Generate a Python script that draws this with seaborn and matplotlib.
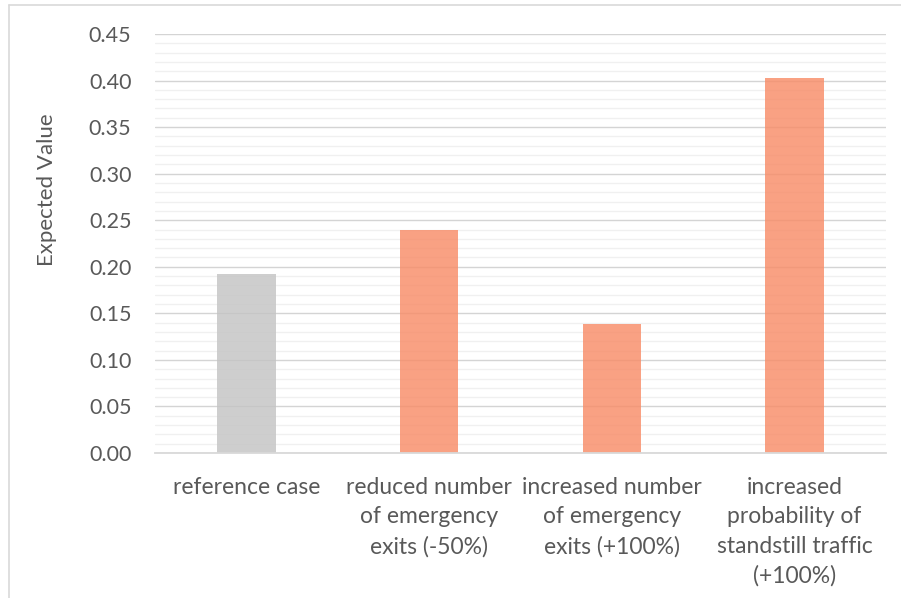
import matplotlib
matplotlib.use("Agg")
import matplotlib.pyplot as plt
from matplotlib.ticker import MultipleLocator
from matplotlib.lines import Line2D
import seaborn as sns
import pandas as pd

# Scenario data
categories = [
    "reference case",
    "reduced number\nof emergency\nexits (-50%)",
    "increased number\nof emergency\nexits (+100%)",
    "increased\nprobability of\nstandstill traffic\n(+100%)",
]
expected_values = [0.192, 0.240, 0.139, 0.403]
bar_colors = ["#c4c4c4", "#f88c68", "#f88c68", "#f88c68"]
y_ticks = [0.00, 0.05, 0.10, 0.15, 0.20, 0.25, 0.30, 0.35, 0.40, 0.45]

df = pd.DataFrame({"scenario": categories, "value": expected_values})

sns.set_style("white")
plt.rcParams["font.family"] = ["Lato", "DejaVu Sans"]

W, H = 901, 598
fig = plt.figure(figsize=(W / 100, H / 100), dpi=100)
ax = fig.add_axes([155 / W, (H - 453) / H, (886 - 155) / W, (453 - 34) / H])

sns.barplot(data=df, x="scenario", y="value", hue="scenario",
            palette=bar_colors, width=0.32, alpha=0.82, saturation=1,
            legend=False, linewidth=0, ax=ax)

ax.set_xlim(-0.5, 3.5)
ax.set_ylim(0, 0.45)
ax.set_yticks(y_ticks)
ax.set_yticklabels([f"{t:.2f}" for t in y_ticks])
ax.yaxis.set_minor_locator(MultipleLocator(0.01))
ax.set_xticks(range(len(categories)))
ax.set_xticklabels(categories, linespacing=1.5)

# gridlines sit behind the translucent bars
ax.set_axisbelow(True)
ax.grid(which="major", axis="y", color="#d4d4d4", linewidth=1.0)
ax.grid(which="minor", axis="y", color="#f0f0f0", linewidth=1.0)

for side in ["top", "right", "left"]:
    ax.spines[side].set_visible(False)
ax.spines["bottom"].set_color("#d9d9d9")
ax.spines["bottom"].set_linewidth(1.3)
ax.spines["bottom"].set_zorder(4)

ax.tick_params(axis="both", which="both", length=0)
ax.tick_params(axis="y", labelsize=15.5, labelcolor="#595959", pad=17)
ax.tick_params(axis="x", labelsize=16.5, labelcolor="#595959", pad=17)

ax.set_xlabel("")
ax.set_ylabel("Expected Value", fontsize=16, color="#595959")
ax.yaxis.set_label_coords((57 - 155) / 731, (453 - 190) / 419)

# outer chart frame
fig.add_artist(Line2D([8.5 / W, 1.0], [1 - 4.5 / H, 1 - 4.5 / H],
                      transform=fig.transFigure, color="#d9d9d9", linewidth=1.2))
fig.add_artist(Line2D([8.5 / W, 8.5 / W], [0.0, 1 - 4.5 / H],
                      transform=fig.transFigure, color="#d9d9d9", linewidth=1.2))

fig.savefig("out.png", dpi=100, facecolor="white")
